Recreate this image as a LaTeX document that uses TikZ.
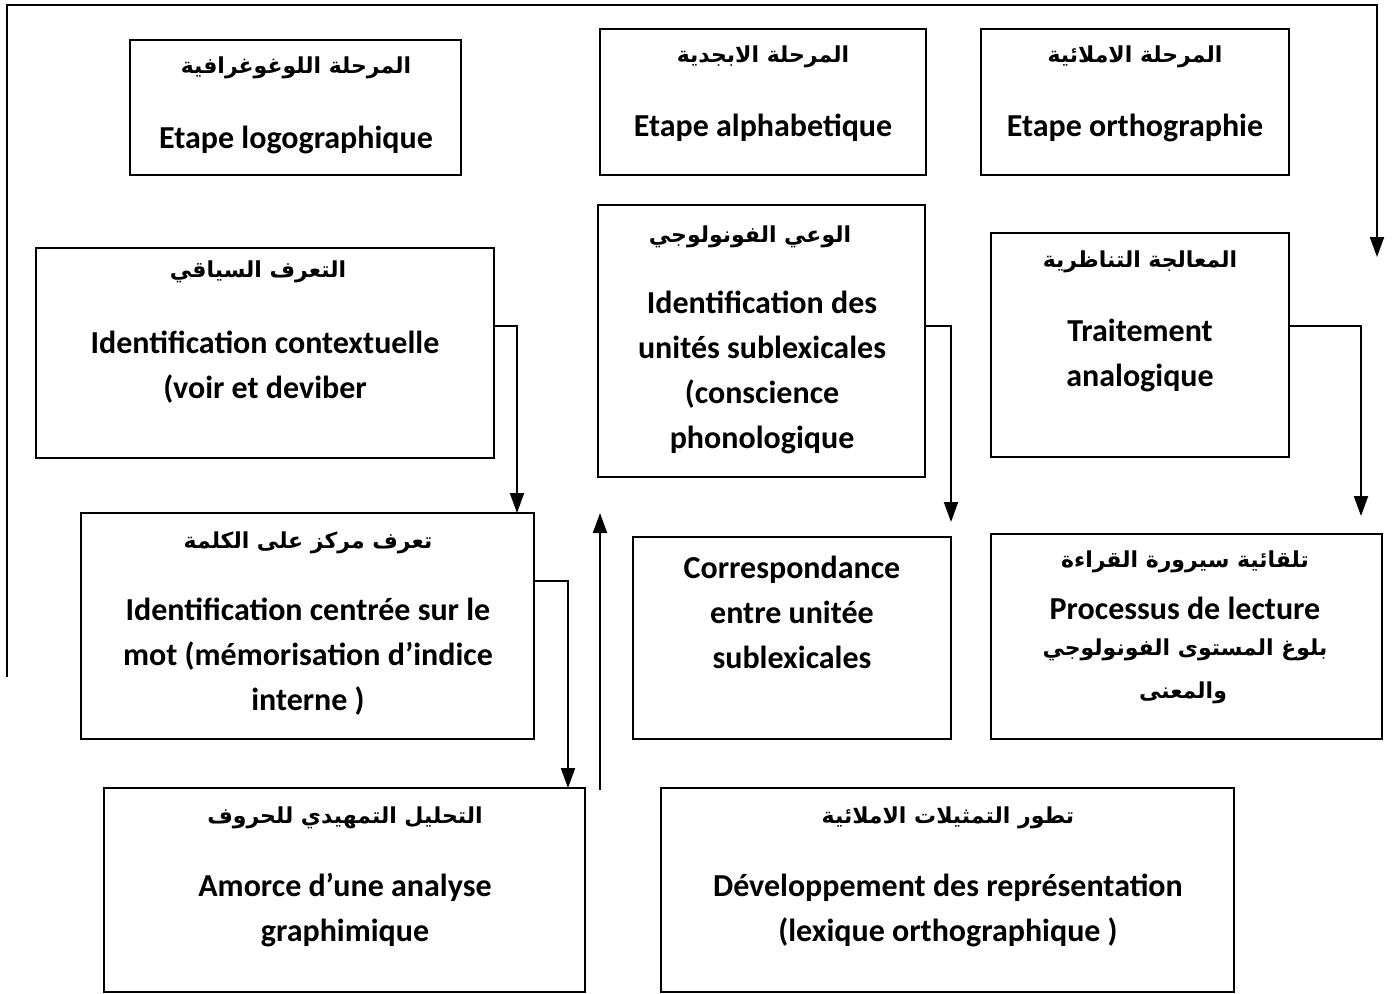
\documentclass[tikz,border=0pt]{standalone}
\usepackage{fontspec}
\setmainfont{Carlito}
\newfontfamily\arabicfont[Script=Arabic]{DejaVu Sans}
\TeXXeTstate=1
\usetikzlibrary{arrows.meta}
% Arabic line, bold, right to left
\newcommand{\artext}[1]{{\arabicfont\bfseries\fontsize{11}{22.5}\selectfont\beginR #1\endR}}
% a framed box given its top-left corner and its size (in picture units)
\newcommand{\boxat}[5]{\node[stagebox, minimum width=#4*0.5pt, minimum height=#5*0.5pt] (#1) at (#2,#3) {};}
\tikzset{
  stagebox/.style={draw, line width=0.9pt, anchor=north west, inner sep=0pt, outer sep=0pt},
  lat/.style={font=\bfseries\fontsize{16}{22.5}\selectfont, align=center, inner sep=0pt},
  ara/.style={align=center, inner sep=0pt},
  link/.style={line width=1pt, -{Triangle[width=7pt,length=10pt]}},
}
\begin{document}
\begin{tikzpicture}[x=0.5pt, y=-0.5pt]
\useasboundingbox (0,0) rectangle (1392,993);

% boxes
\boxat{b1}{130}{40}{331}{135}
\boxat{b2}{600}{29}{326}{146}
\boxat{b3}{981}{29}{308}{146}
\boxat{b4}{36}{248}{458}{210}
\boxat{b5}{598}{205}{327}{272}
\boxat{b6}{991}{233}{298}{224}
\boxat{b7}{81}{513}{453}{226}
\boxat{b8}{633}{537}{318}{202}
\boxat{b9}{991}{534}{391}{205}
\boxat{b10}{104}{788}{481}{204}
\boxat{b11}{661}{788}{573}{204}

% texts of the top row
\node[ara] (t1a) at (296,68) {\artext{المرحلة اللوغوغرافية}};
\node[lat] (t1b) at (296,140) {Etape logographique};
\node[ara] (t2a) at (763,57) {\artext{المرحلة الابجدية}};
\node[lat] (t2b) at (763,128) {Etape alphabetique};
\node[ara] (t3a) at (1135,57) {\artext{المرحلة الاملائية}};
\node[lat] (t3b) at (1135,128) {Etape orthographie};

% texts of the second row
\node[ara] (t4a) at (258,272) {\artext{التعرف السياقي}};
\node[lat] (t4b) at (265,367) {Identification contextuelle\\(voir et deviber};
\node[ara] (t5a) at (750,237) {\artext{الوعي الفونولوجي}};
\node[lat] (t5b) at (762,372) {Identification des\\unités sublexicales\\(conscience\\phonologique};
\node[ara] (t6a) at (1140,262) {\artext{المعالجة التناظرية}};
\node[lat] (t6b) at (1140,355) {Traitement\\analogique};

% texts of the third row
\node[ara] (t7a) at (308,543) {\artext{تعرف مركز على الكلمة}};
\node[lat] (t7b) at (308,657) {Identification centrée sur le\\mot (mémorisation d’indice\\interne )};
\node[lat] (t8) at (792,612) {Correspondance\\entre unitée\\sublexicales};
\node[ara] (t9a) at (1185,562) {\artext{تلقائية سيرورة القراءة}};
\node[lat] (t9b) at (1185,608) {Processus de lecture};
\node[ara] (t9c) at (1185,650) {\artext{بلوغ المستوى الفونولوجي}};
\node[ara] (t9d) at (1183,693) {\artext{والمعنى}};

% texts of the bottom row
\node[ara] (t10a) at (345,818) {\artext{التحليل التمهيدي للحروف}};
\node[lat] (t10b) at (345,910) {Amorce d’une analyse\\graphimique};
\node[ara] (t11a) at (948,818) {\artext{تطور التمثيلات الاملائية}};
\node[lat] (t11b) at (948,910) {Développement des représentation\\(lexique orthographique )};

% free ends of connectors
\coordinate (c3end) at (951,522);
\coordinate (c4end) at (1361,516);
\coordinate (upfoot) at (600,790);
\coordinate (uptip) at (600,513);
\coordinate (fbot) at (7,677);
\coordinate (ftl) at (7,5);
\coordinate (ftr) at (1377,5);
\coordinate (ftip) at (1377,257);

% connectors
\draw[link] (b4.east |- 0,326) -| (517,0 |- b7.north);
\draw[link] (b7.east |- 0,581) -| (568,0 |- b10.north);
\draw[link] (b5.east |- 0,326) -| (c3end);
\draw[link] (b6.east |- 0,326) -| (c4end);
\draw[link] (upfoot) -- (uptip);
\draw[link, line join=miter] (fbot) -- (ftl) -- (ftr) -- (ftip);
\end{tikzpicture}
\end{document}
